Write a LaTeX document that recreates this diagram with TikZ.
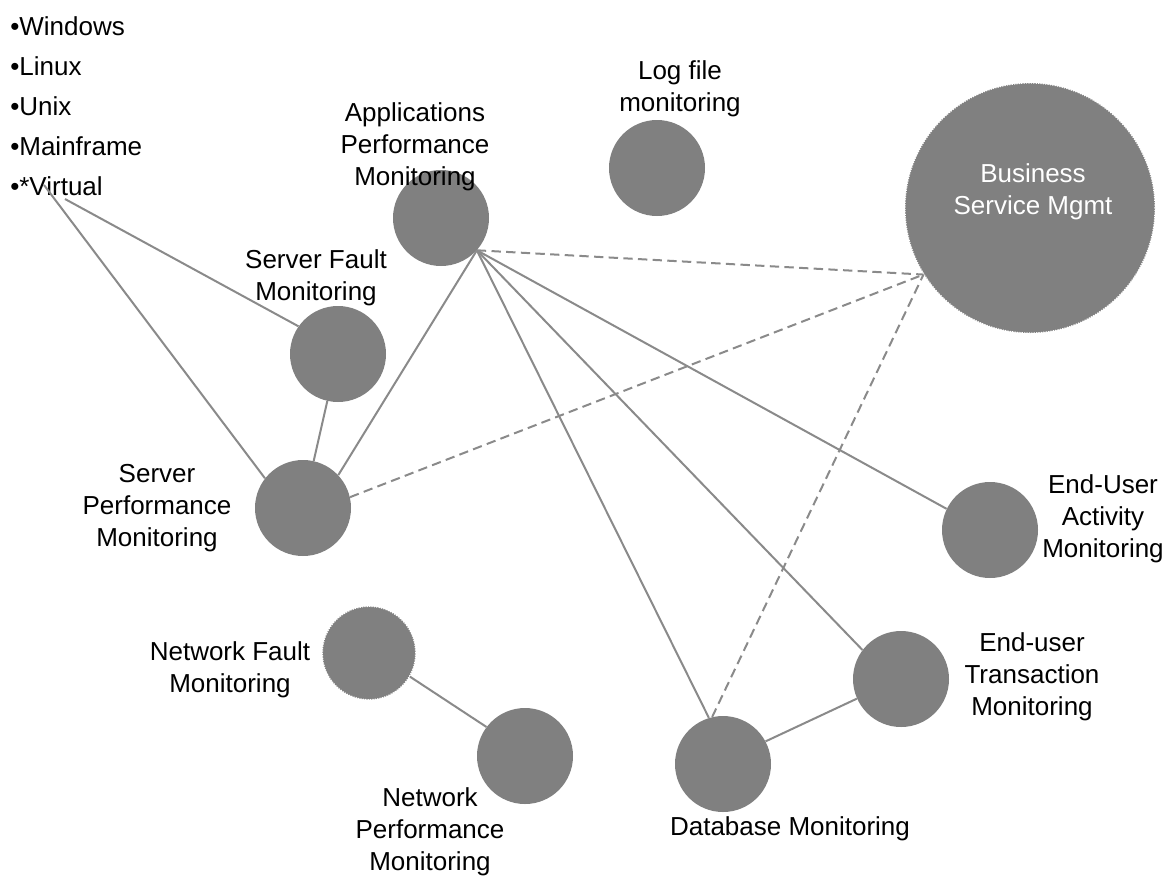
\documentclass[tikz,border=0pt]{standalone}
\usepackage{fontspec}
\setmainfont{Liberation Sans}
\usetikzlibrary{positioning}
\definecolor{nodegray}{HTML}{808080}
\definecolor{linegray}{HTML}{8A8A8A}
\tikzstyle{monitor} = [circle, fill=nodegray, minimum size=72pt, inner sep=0pt]
\tikzstyle{fuzzy} = [draw=white, line width=0.9pt, dash pattern=on 0.9pt off 0.9pt]
\tikzstyle{desc} = [align=center, inner sep=0pt, font=\fontsize{19.5}{24}\selectfont]
\tikzstyle{link} = [draw=linegray, line width=1.5pt]
\tikzstyle{weaklink} = [link, dash pattern=on 7pt off 4pt]

\begin{document}
\begin{tikzpicture}[x=0.75pt, y=-0.75pt]
          \useasboundingbox (0,0) rectangle (1167,875);
          % monitoring circles
          \node (apps) [monitor] at (441,218) {};
          \node (logfile) [monitor] at (657,168) {};
          \node (bsm) [monitor, fuzzy, minimum size=187.5pt] at (1030,208) {};
          \node (sfault) [monitor] at (338,354) {};
          \node (sperf) [monitor] at (303,508) {};
          \node (activity) [monitor] at (990,530) {};
          \node (nfault) [monitor, fuzzy, minimum size=70pt] at (369,653) {};
          \node (nperf) [monitor] at (525,756) {};
          \node (trans) [monitor] at (901,679) {};
          \node (db) [monitor] at (723,764) {};
          % platform list
          \node (oslist) [anchor=north west, align=left, inner sep=0pt, font=\fontsize{19.5}{30}\selectfont] at (10,16) {•Windows\\•Linux\\•Unix\\•Mainframe\\•*Virtual};
          \coordinate (v1) at (44,185);
          \coordinate (v2) at (65,199);
          % connectors
          \draw [link] (v2) -- (sfault.145);
          \draw [link] (v1) -- (sperf.142);
          \draw [link] (sfault) -- (sperf);
          \draw [link] (sperf.43) -- (apps.-42);
          \draw [link] (apps.-42) -- (db.107);
          \draw [link] (apps.-42) -- (trans.143);
          \draw [link] (apps.-42) -- (activity.154);
          \draw [link] (db.28) -- (trans.204);
          \draw [link] (nfault.-30) -- (nperf.143);
          \draw [weaklink] (apps.-42) -- (bsm.212);
          \draw [weaklink] (sperf.13) -- (bsm.212);
          \draw [weaklink] (db.103) -- (bsm.212);
          % labels
          \node (appstext) [desc] at (415,147) {Applications\\Performance\\Monitoring};
          \node (logtext) [desc] at (680,89) {Log file\\monitoring};
          \node (bsmtext) [desc, text=white] at (1033,192) {Business\\Service Mgmt};
          \node (sfaulttext) [desc] at (316,278) {Server Fault\\Monitoring};
          \node (sperftext) [desc] at (157,508) {Server\\Performance\\Monitoring};
          \node (activitytext) [desc] at (1103,519) {End-User\\Activity\\Monitoring};
          \node (transtext) [desc] at (1032,677) {End-user\\Transaction\\Monitoring};
          \node (nfaulttext) [desc] at (230,670) {Network Fault\\Monitoring};
          \node (nperftext) [desc] at (430,832) {Network\\Performance\\Monitoring};
          \node (dbtext) [desc] at (790,829) {Database Monitoring};
\end{tikzpicture}
\end{document}
